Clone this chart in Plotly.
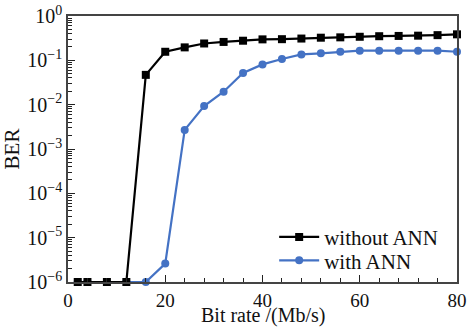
import plotly.graph_objects as go

bit_rate = [2, 4, 8, 12, 16, 20, 24, 28, 32, 36, 40, 44, 48, 52, 56, 60, 64, 68, 72, 76, 80]
ber_without = [1e-6, 1e-6, 1e-6, 1e-6, 0.047, 0.156, 0.196, 0.24, 0.26, 0.277, 0.297, 0.30,
               0.31, 0.324, 0.33, 0.34, 0.35, 0.355, 0.36, 0.37, 0.386]
ber_with = [1e-6, 1e-6, 1e-6, 1e-6, 1e-6, 2.6e-6, 2.7e-3, 9.3e-3, 0.0196, 0.052, 0.081, 0.107,
            0.136, 0.144, 0.156, 0.165, 0.165, 0.165, 0.165, 0.165, 0.156]
y_tickvals = [1e0, 1e-1, 1e-2, 1e-3, 1e-4, 1e-5, 1e-6]
y_ticktext = ["10<sup>0</sup>", "10<sup>−1</sup>", "10<sup>−2</sup>", "10<sup>−3</sup>",
              "10<sup>−4</sup>", "10<sup>−5</sup>", "10<sup>−6</sup>"]
x_tickvals = [0, 20, 40, 60, 80]
x_title = "Bit rate /(Mb/s)"
y_title = "BER"

y_minor = [m * 10.0 ** e for e in range(-6, 0) for m in range(2, 10)]
x_minor = list(range(0, 81, 4))

font = "Liberation Serif, Times New Roman, serif"

fig = go.Figure()
fig.add_trace(go.Scatter(x=bit_rate, y=ber_with, name="with ANN", mode="lines+markers",
                         line=dict(color="#4472C4", width=2.2),
                         marker=dict(symbol="circle", size=8, color="#4472C4"),
                         cliponaxis=False, legend="legend2"))
fig.add_trace(go.Scatter(x=bit_rate, y=ber_without, name="without ANN", mode="lines+markers",
                         line=dict(color="#000000", width=2.2),
                         marker=dict(symbol="square", size=8, color="#000000"),
                         cliponaxis=False, legend="legend"))

leg_common = dict(xanchor="left", yanchor="middle", bgcolor="rgba(0,0,0,0)",
                  font=dict(size=21, family=font, color="#111"), itemwidth=40)

fig.update_layout(
    width=469, height=328,
    margin=dict(l=68, r=12, t=16, b=46),
    paper_bgcolor="white", plot_bgcolor="white",
    font=dict(family=font, size=19, color="#111"),
    showlegend=True,
    legend=dict(x=0.53, y=0.168, **leg_common),
    legend2=dict(x=0.53, y=0.080, **leg_common),
)
fig.add_annotation(text=x_title, xref="paper", yref="paper", x=0.5, y=-0.173,
                   xanchor="center", yanchor="bottom", showarrow=False, borderpad=0,
                   font=dict(size=20, family=font, color="#111"))
fig.update_xaxes(range=[0, 80], tickvals=x_tickvals, ticks="inside", ticklen=7, tickwidth=1.3,
                 tickcolor="#222", showgrid=False, zeroline=False, automargin=False,
                 showline=True, linecolor="#444", linewidth=1.5, mirror=True,
                 minor=dict(ticks="inside", tickvals=x_minor, ticklen=4, tickwidth=1.3,
                            tickcolor="#222", showgrid=False),
                 tickfont=dict(size=19))
fig.update_yaxes(type="log", range=[-6, 0], tickvals=y_tickvals, ticktext=y_ticktext,
                 ticks="inside", ticklen=7, tickwidth=1.3, tickcolor="#222", showgrid=False,
                 zeroline=False, automargin=False,
                 showline=True, linecolor="#444", linewidth=1.5, mirror=True,
                 minor=dict(ticks="inside", tickvals=y_minor, ticklen=4, tickwidth=1.3,
                            tickcolor="#222", showgrid=False),
                 title=dict(text=y_title, font=dict(size=21)),
                 tickfont=dict(size=20))

fig.write_html("out.html")
